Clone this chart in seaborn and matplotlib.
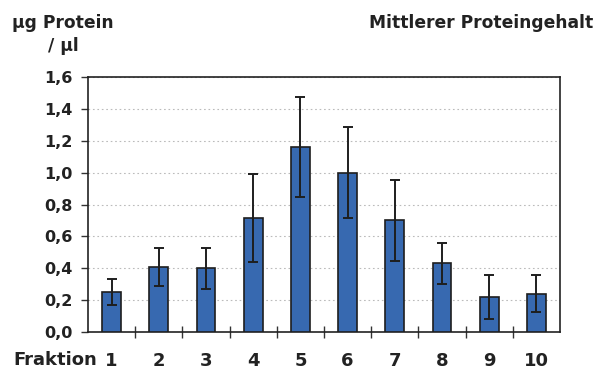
import matplotlib
matplotlib.use("Agg")
import matplotlib.pyplot as plt
import seaborn as sns
import pandas as pd
import numpy as np
from matplotlib.ticker import FuncFormatter, FixedLocator

fractions = ["1", "2", "3", "4", "5", "6", "7", "8", "9", "10"]
protein = [0.25, 0.41, 0.40, 0.715, 1.16, 1.00, 0.70, 0.43, 0.22, 0.24]
errors = [0.08, 0.12, 0.13, 0.275, 0.315, 0.285, 0.255, 0.13, 0.14, 0.115]
yticks = [0.0, 0.2, 0.4, 0.6, 0.8, 1.0, 1.2, 1.4, 1.6]

sns.set_theme(style="white")
plt.rcParams['font.family'] = ['DejaVu Sans']
plt.rcParams['font.weight'] = 'bold'

df = pd.DataFrame({"Fraktion": fractions, "Protein": protein})

fig = plt.figure(figsize=(5.97, 3.71), dpi=100)
ax = fig.add_axes([0.1474, 0.105, 0.7906, 0.6875])

sns.barplot(data=df, x="Fraktion", y="Protein", ax=ax, color="#3769b0",
            saturation=1, width=0.4, edgecolor="#1e1e1e", linewidth=1.2,
            errorbar=None, zorder=3)
ax.errorbar(np.arange(len(fractions)), protein, yerr=errors, fmt="none",
            ecolor="#1e1e1e", elinewidth=1.4, capsize=3.5, capthick=1.4, zorder=4)

ax.set_xlim(-0.5, len(fractions) - 0.5)
ax.set_ylim(0, 1.6)
ax.set_yticks(yticks)
ax.yaxis.set_major_formatter(FuncFormatter(lambda v, p: f"{v:.1f}".replace(".", ",")))
ax.set_xticks(np.arange(len(fractions)))
ax.set_xticklabels(fractions)
ax.xaxis.set_minor_locator(FixedLocator(np.arange(0.5, len(fractions) - 0.5, 1.0)))

ax.tick_params(axis="x", which="major", length=0, pad=14.5, labelsize=13)
ax.tick_params(axis="x", which="minor", direction="inout", length=9, width=1.0,
               color="#333333", bottom=True)
ax.tick_params(axis="y", which="major", direction="out", length=5, width=1.0,
               color="#333333", left=True, labelsize=11.5, pad=6)
for lab in ax.get_xticklabels() + ax.get_yticklabels():
    lab.set_fontweight("bold")
    lab.set_color("#222222")

ax.yaxis.grid(True, linestyle=(0, (1.5, 2.5)), color="#bbbbbb", linewidth=0.8, zorder=0)
ax.set_axisbelow(True)
for s in ax.spines.values():
    s.set_visible(True)
    s.set_color("#222222")
    s.set_linewidth(1.2)

ax.set_xlabel("")
ax.set_ylabel("")

fig.text(0.163, 0.030, "Fraktion", ha="right", va="center", fontsize=13,
         fontweight="bold", color="#222222")

fig.text(0.020, 0.938, "µg Protein", ha="left", va="center", fontsize=12.3,
         fontweight="bold", color="#222222")
fig.text(0.080, 0.876, "/ µl", ha="left", va="center", fontsize=12.3,
         fontweight="bold", color="#222222")
fig.text(0.993, 0.938, "Mittlerer Proteingehalt", ha="right", va="center",
         fontsize=12.3, fontweight="bold", color="#222222")

fig.savefig("out.png", dpi=100, facecolor="white")
